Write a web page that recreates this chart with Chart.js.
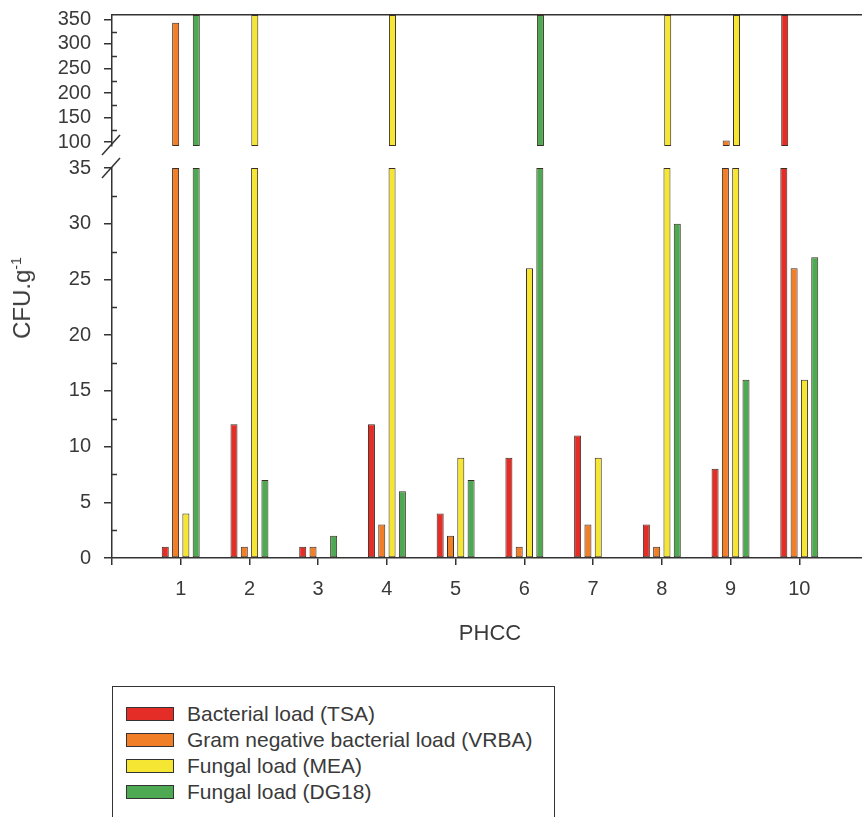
<!DOCTYPE html>
<html>
<head>
<meta charset="utf-8">
<script src="https://cdn.jsdelivr.net/npm/chart.js@4.4.1/dist/chart.umd.min.js"></script>
<style>
    html, body { margin: 0; padding: 0; overflow: hidden; background: #fff; }
    #wrap { position: relative; width: 862px; height: 817px; overflow: hidden;
            font-family: 'Liberation Sans', Arial, sans-serif; color: #3a3a3a; }
    .box { position: absolute; left: 0; width: 880px; }
    #topBox { top: -10px; height: 181px; }
    #botBox { top: 130px; height: 528px; }
    #yTitle { position: absolute; left: 22px; top: 298px; font-size: 24px; white-space: nowrap;
              transform: translate(-50%, -50%) rotate(-90deg); }
    #yTitle sup { font-size: 14px; }
    #legend { position: absolute; left: 112px; top: 686px; width: 443px; height: 160px;
              border: 1px solid #333; box-sizing: border-box; padding: 14px 0 0 13px; }
    .row { display: flex; align-items: center; height: 26px; font-size: 21px; white-space: nowrap; }
    .sw { width: 48px; height: 14px; border: 1px solid #333; box-sizing: border-box; margin-right: 13px; }
</style>
</head>
<body>
<div id="wrap">
    <div class="box" id="topBox"><canvas id="topChart"></canvas></div>
    <div class="box" id="botBox"><canvas id="botChart"></canvas></div>
    <div id="yTitle">CFU.g<sup>-1</sup></div>
    <div id="legend"></div>
</div>
<script>
// PHCC sites
const phcc = ['1', '2', '3', '4', '5', '6', '7', '8', '9', '10'];

// CFU.g-1 per medium (360 = bar runs off the top of the upper panel)
const tsa  = [1, 12, 1, 12, 4, 9, 11, 3, 8, 360];
const vrba = [343, 1, 1, 3, 2, 1, 3, 1, 103, 26];
const mea  = [4, 360, 0, 360, 9, 26, 9, 360, 360, 16];
const dg18 = [360, 7, 2, 6, 7, 360, 0, 30, 16, 27];

const seriesNames = ['Bacterial load (TSA)', 'Gram negative bacterial load (VRBA)', 'Fungal load (MEA)', 'Fungal load (DG18)'];
const seriesColors = ['#e42d27', '#f07f28', '#f6e634', '#4eaa52'];

// broken y axis
const topTicks = [100, 150, 200, 250, 300, 350];
const botTicks = [0, 5, 10, 15, 20, 25, 30, 35];
const topMin = 92, topMax = 359;
const botMax = 35;

const FONT = "'Liberation Sans', Arial, sans-serif";
const INK = '#3a3a3a';
const AXIS = '#333';

// empty slot at each end so category 1 sits one step from the y axis
const labels = ['', ...phcc, ''];
const pad = arr => [null, ...arr, null];

function makeDatasets(mapFn, extra) {
    return [tsa, vrba, mea, dg18].map((arr, i) => Object.assign({
        label: seriesNames[i],
        data: pad(arr.map(mapFn)),
        backgroundColor: seriesColors[i],
        borderColor: '#3a2e26',
        borderWidth: 1,
        borderSkipped: false,
        categoryPercentage: 0.6,
        barPercentage: 0.68
    }, extra || {}));
}

const yAxisBase = (ticks, min, max, minorStep) => ({
    min, max,
    minorStep,
    afterFit: s => { s.width = 112; },
    afterBuildTicks: s => { s.ticks = ticks.map(v => ({ value: v })); },
    grid: { drawOnChartArea: false, tickLength: 8, color: AXIS, lineWidth: 1.5 },
    border: { color: AXIS, width: 1.5 },
    ticks: { color: INK, padding: 13, autoSkip: false, font: { family: FONT, size: 20 } }
});

// small inward ticks between the labelled ones
const minorTicks = {
    id: 'minorTicks',
    afterDraw(chart) {
        const y = chart.scales.y;
        const step = y.options.minorStep;
        const { ctx, chartArea } = chart;
        ctx.save();
        ctx.strokeStyle = AXIS;
        ctx.lineWidth = 1.5;
        for (let v = Math.ceil(y.min / step) * step; v <= y.max; v += step) {
            if (y.ticks.some(t => t.value === v)) continue;
            const py = Math.round(y.getPixelForValue(v)) + 0.5;
            ctx.beginPath();
            ctx.moveTo(chartArea.left, py);
            ctx.lineTo(chartArea.left + 5, py);
            ctx.stroke();
        }
        ctx.restore();
    }
};

// upper panel
new Chart(document.getElementById('topChart'), {
    type: 'bar',
    data: {
        labels,
        datasets: makeDatasets(v => (v > topMin ? Math.min(v, topMax) : null), { base: topMin })
    },
    options: {
        responsive: true,
        maintainAspectRatio: false,
        animation: false,
        layout: { padding: { top: 4, bottom: 0, left: 0, right: 11 } },
        plugins: { legend: { display: false }, tooltip: { enabled: false } },
        scales: {
            x: {
                position: 'top',
                offset: false,
                afterFit: s => { s.height = 0; },
                grid: { display: false, drawTicks: false, offset: false },
                border: { color: AXIS, width: 1.5 },
                ticks: { display: false }
            },
            y: yAxisBase(topTicks, topMin, topMax, 25)
        }
    },
    plugins: [minorTicks]
});

// axis break marks
const breakMarks = {
    id: 'breakMarks',
    afterDraw(chart) {
        const { ctx, chartArea } = chart;
        const x = chartArea.left;
        const y = chartArea.top;
        ctx.save();
        ctx.strokeStyle = AXIS;
        ctx.lineWidth = 1.5;
        [-23, 0].forEach(dy => {
            ctx.beginPath();
            ctx.moveTo(x - 10, y + dy + 10);
            ctx.lineTo(x + 8, y + dy - 10);
            ctx.stroke();
        });
        ctx.restore();
    }
};

// lower panel
new Chart(document.getElementById('botChart'), {
    type: 'bar',
    data: {
        labels,
        datasets: makeDatasets(v => Math.min(v, botMax))
    },
    options: {
        responsive: true,
        maintainAspectRatio: false,
        animation: false,
        layout: { padding: { top: 38, bottom: 0, left: 0, right: 11 } },
        plugins: { legend: { display: false }, tooltip: { enabled: false } },
        scales: {
            x: {
                offset: false,
                afterFit: s => { s.height = 100; },
                grid: { drawOnChartArea: false, offset: false, tickLength: 7, color: AXIS, lineWidth: 1.5 },
                border: { color: AXIS, width: 1.5 },
                ticks: { color: INK, padding: 12, maxRotation: 0, autoSkip: false, font: { family: FONT, size: 20 } },
                title: { display: true, text: 'PHCC', color: INK, padding: { bottom: 11 }, font: { family: FONT, size: 22 } }
            },
            y: yAxisBase(botTicks, 0, botMax, 2.5)
        }
    },
    plugins: [breakMarks, minorTicks]
});

// legend box
const legendEl = document.getElementById('legend');
legendEl.innerHTML = seriesNames.map((name, i) =>
    `<div class="row"><span class="sw" style="background:${seriesColors[i]}"></span>${name}</div>`
).join('');
</script>
</body>
</html>
